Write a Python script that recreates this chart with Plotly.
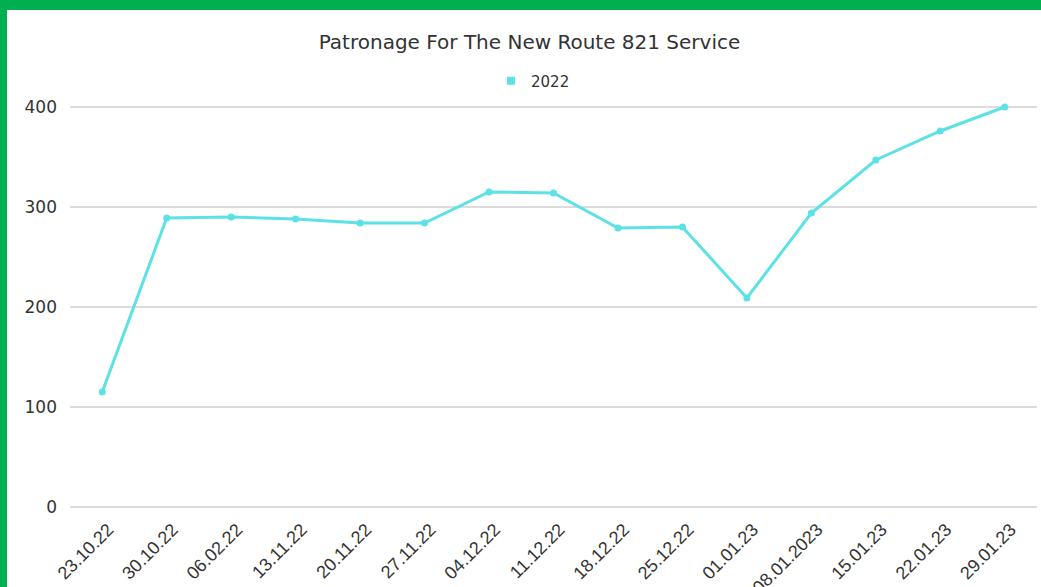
import plotly.graph_objects as go

dates = ["23.10.22", "30.10.22", "06.02.22", "13.11.22", "20.11.22", "27.11.22",
         "04.12.22", "11.12.22", "18.12.22", "25.12.22", "01.01.23", "08.01.2023",
         "15.01.23", "22.01.23", "29.01.23"]
patronage = [115, 289, 290, 288, 284, 284, 315, 314, 279, 280, 209, 294, 347, 376, 400]
series_name = "2022"
y_ticks = [0, 100, 200, 300, 400]

W, H = 1041, 587
ML, MR, MT, MB = 70, 4, 67, 80
LINE = "#5ce1e6"
GREEN = "#00b050"
TXT = "#333333"
GRID = "#dcdcdc"
FONT = "DejaVu Sans, sans-serif"

def px_x(p):
    return (p - ML) / (W - ML - MR)

def px_y(p):
    return 1 - (p - MT) / (H - MT - MB)

fig = go.Figure()
fig.add_trace(go.Scatter(x=dates, y=patronage, mode="lines+markers",
                         line=dict(color=LINE, width=3),
                         marker=dict(color=LINE, size=7),
                         showlegend=False, cliponaxis=False))
fig.add_trace(go.Scatter(x=[None], y=[None], mode="markers", name=series_name,
                         marker=dict(color=LINE, size=8, symbol="square")))

fig.update_layout(
    width=W, height=H,
    margin=dict(l=ML, r=MR, t=MT, b=MB, autoexpand=False),
    paper_bgcolor="white", plot_bgcolor="white",
    font=dict(family=FONT, color=TXT, size=15),
    title=dict(text="Patronage For The New Route 821 Service", x=529.5 / W, xref="container",
               xanchor="center", y=1 - 42 / H, yref="container", yanchor="middle",
               font=dict(size=20, color=TXT)),
    legend=dict(orientation="h", x=px_x(533), xanchor="center", y=px_y(81), yanchor="middle",
                font=dict(size=15, color=TXT), itemwidth=30),
    xaxis=dict(type="category", tickangle=-45, showgrid=False, showline=False,
               ticks="outside", ticklen=4, tickcolor="white", automargin=False,
               ticklabelshift=6,
               tickfont=dict(family="Liberation Sans Narrow, sans-serif", size=18, color=TXT),
               range=[-0.5, len(dates) - 0.5]),
    yaxis=dict(range=[0, 440], tickvals=y_ticks, showgrid=True, gridcolor=GRID, gridwidth=1.5,
               zeroline=True, zerolinecolor=GRID, zerolinewidth=2, showline=False, automargin=False,
               ticklabelstandoff=12, tickfont=dict(size=17, color=TXT)),
    shapes=[
        dict(type="rect", xref="paper", yref="paper", x0=px_x(0), x1=px_x(W), y0=px_y(0), y1=px_y(10),
             fillcolor=GREEN, line=dict(width=0), layer="above"),
        dict(type="rect", xref="paper", yref="paper", x0=px_x(0), x1=px_x(7), y0=px_y(0), y1=px_y(H),
             fillcolor=GREEN, line=dict(width=0), layer="above"),
    ],
)

fig.write_html("out.html", config={"displayModeBar": False},
               post_script="document.body.style.margin='0';document.body.style.overflow='hidden';")
